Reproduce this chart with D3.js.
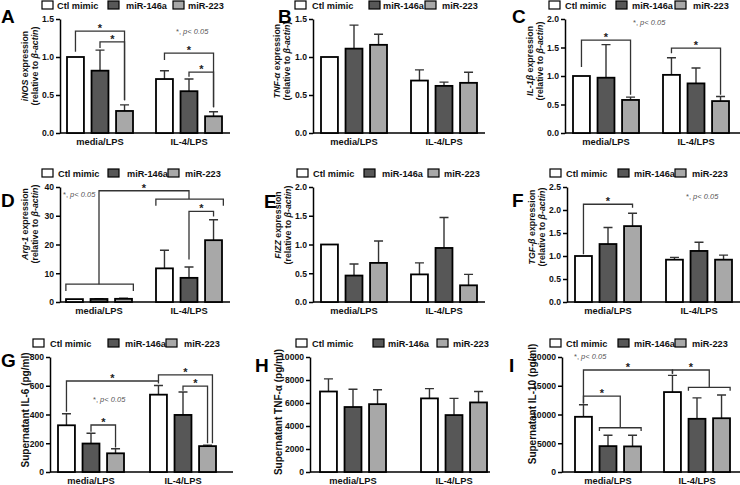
<!DOCTYPE html>
<html>
<head>
<meta charset="utf-8">
<script src="https://cdn.jsdelivr.net/npm/d3@7"></script>
<style>
  body { margin: 0; background: #fff; }
  svg { display: block; font-family: "Liberation Sans", Arial, sans-serif; }
</style>
</head>
<body>
<div id="chart"></div>
<script>
const groups = ["media/LPS", "IL-4/LPS"];
const series = ["Ctl mimic", "miR-146a", "miR-223"];

// means, rows = groups, columns = series ; *Err = upper error bar
const iNOS = [[1.00, 0.82, 0.29], [0.71, 0.55, 0.22]];
const iNOSErr = [[0, 0.27, 0.08], [0.11, 0.16, 0.06]];
const tnfA = [[1.00, 1.11, 1.16], [0.69, 0.62, 0.66]];
const tnfAErr = [[0, 0.31, 0.14], [0.14, 0.05, 0.14]];
const il1b = [[1.00, 0.97, 0.58], [1.02, 0.87, 0.56]];
const il1bErr = [[0, 0.58, 0.05], [0.30, 0.27, 0.08]];
const arg1 = [[1.0, 1.05, 1.1], [11.7, 8.4, 21.5]];
const arg1Err = [[0, 0.1, 0.25], [6.3, 3.8, 7.1]];
const fizz = [[1.00, 0.46, 0.68], [0.48, 0.94, 0.29]];
const fizzErr = [[0, 0.20, 0.38], [0.20, 0.53, 0.19]];
const tgfb = [[1.00, 1.26, 1.65], [0.92, 1.11, 0.92]];
const tgfbErr = [[0, 0.36, 0.28], [0.05, 0.19, 0.10]];
const il6 = [[325, 198, 130], [538, 397, 180]];
const il6Err = [[80, 72, 32], [64, 160, 7]];
const tnfSup = [[7000, 5650, 5900], [6400, 4950, 6050]];
const tnfSupErr = [[1100, 1550, 1250], [850, 1450, 950]];
const il10 = [[9600, 4500, 4450], [13900, 9250, 9350]];
const il10Err = [[2100, 1900, 1950], [2900, 3650, 4050]];

// y ticks
const ticks15 = [0, 0.5, 1.0, 1.5];
const ticks20 = [0, 0.5, 1.0, 1.5, 2.0];
const ticks25 = [0, 0.5, 1.0, 1.5, 2.0, 2.5];
const ticksArg = [0, 10, 20, 30, 40];
const ticksIL6 = [0, 200, 400, 600, 800];
const ticksTNF = [0, 2000, 4000, 6000, 8000, 10000];
const ticksIL10 = [0, 5000, 10000, 15000, 20000];

// significance brackets : a / b = [group, bar, end of leg], y = level (data units)
const sigA = [
  {a: [0, 0, 1.07], b: [0, 2, 0.43], y: 1.34, star: true},
  {a: [0, 1, 1.12], b: [0, 2, 0.43], y: 1.20, star: true},
  {a: [1, 0, 0.96], b: [1, 2, 0.34], y: 1.05, star: true},
  {a: [1, 1, 0.74], b: [1, 2, 0.34], y: 0.80, star: true}
];
const sigC = [
  {a: [0, 0, 1.16], b: [0, 2, 0.67], y: 1.63, star: true},
  {a: [1, 0, 1.40], b: [1, 2, 0.67], y: 1.49, star: true}
];
const sigD = [
  {a: [0, -0.35, 3.8], b: [0, 2.4, 3.8], y: 6.2, star: false},
  {a: [1, -0.35, 33.5], b: [1, 2.4, 33.5], y: 35.8, star: false},
  {a: [0, 1, 6.2], b: [1, 1, 35.8], y: 38.7, star: true},
  {a: [1, 1, 14.8], b: [1, 2, 29.7], y: 31.5, star: true}
];
const sigF = [
  {a: [0, 0, 1.04], b: [0, 2, 2.05], y: 2.125, star: true}
];
const sigG = [
  {a: [0, 0, 420], b: [1, 0, 615], y: 633, star: true},
  {a: [1, 0, 633], b: [1, 2.2, 200], y: 675, star: true},
  {a: [1, 1, 565], b: [1, 2, 200], y: 598, star: true},
  {a: [0, 1, 280], b: [0, 2, 170], y: 327, star: true}
];
const sigI = [
  {a: [0, 0.65, 7130], b: [0, 2.35, 7130], y: 7700, star: false},
  {a: [0, 0, 11900], b: [0, 1.5, 7700], y: 13200, star: true},
  {a: [1, 0.65, 14150], b: [1, 2.35, 14150], y: 14730, star: false},
  {a: [1, 0, 17100], b: [1, 1.5, 14730], y: 17740, star: true},
  {a: [0, 0, 11900], b: [1, 0, 17100], y: 17740, star: true}
];

const fills = ["#ffffff", "#575757", "#a8a8a8"];
const groupW = 66;
const font = "'Liberation Sans', Arial, sans-serif";

const svg = d3.select("#chart").append("svg")
  .attr("width", 740)
  .attr("height", 485);

const rel = [["(relative to ", 0], ["β-actin", 1], [")", 0]];

// layout of each panel (pixels)
const panels = [
  {letter: "A", lxy: [1, 23], vals: iNOS, errs: iNOSErr, ticks: ticks15, fmt: ".1f", sig: sigA,
   title: [[["iNOS", 1], [" expression", 0]], rel], tx: [25, 35], ty: 66, fs: 8.8,
   axis: [60, 230], bars: [67, 222], rows: [19, 133],
   leg: [[42, 57], [108, 126], [173, 188]], legY: 9, ptxt: [176, 34]},
  {letter: "B", lxy: [278, 23], vals: tnfA, errs: tnfAErr, ticks: ticks15, fmt: ".1f", sig: [],
   title: [[["TNF-α", 1], [" expression", 0]], rel], tx: [277, 287], ty: 61, fs: 8.8,
   axis: [313, 485], bars: [321, 477], rows: [19, 133],
   leg: [[295, 312], [369, 383], [425, 442]], legY: 9},
  {letter: "C", lxy: [512, 23], vals: il1b, errs: il1bErr, ticks: ticks20, fmt: ".1f", sig: sigC,
   title: [[["IL-1β", 1], [" expression", 0]], rel], tx: [530, 540], ty: 61, fs: 8.8,
   axis: [565, 740], bars: [573, 729], rows: [19, 133],
   leg: [[549, 565], [616, 632], [675, 693]], legY: 9, ptxt: [633, 25]},
  {letter: "D", lxy: [1, 207], vals: arg1, errs: arg1Err, ticks: ticksArg, fmt: "d", sig: sigD,
   title: [[["Arg-1", 1], [" expression", 0]], rel], tx: [25, 35], ty: 224, fs: 8.8,
   axis: [60, 230], bars: [66, 222], rows: [187, 302],
   leg: [[42, 58], [108, 127], [168, 185]], legY: 177, ptxt: [63, 197]},
  {letter: "E", lxy: [264, 208], vals: fizz, errs: fizzErr, ticks: ticks20, fmt: ".1f", sig: [],
   title: [[["FIZZ", 1], [" expression", 0]], rel], tx: [278, 288], ty: 225, fs: 8.8,
   axis: [313, 485], bars: [321, 477], rows: [187, 302],
   leg: [[297, 313], [364, 382], [428, 444]], legY: 177},
  {letter: "F", lxy: [512, 207], vals: tgfb, errs: tgfbErr, ticks: ticks25, fmt: ".1f", sig: sigF,
   title: [[["TGF-β", 1], [" expression", 0]], rel], tx: [532, 542], ty: 227, fs: 8.8,
   axis: [567, 740], bars: [575, 732], rows: [187, 302],
   leg: [[550, 566], [618, 634], [675, 692]], legY: 177, ptxt: [686, 199]},
  {letter: "G", lxy: [1, 367], vals: il6, errs: il6Err, ticks: ticksIL6, fmt: "d", sig: sigG,
   title: [[["Supernatant IL-6 (pg/ml)", 0]]], tx: [25], ty: 410, fs: 10,
   axis: [50, 233], bars: [58, 216], rows: [357, 472],
   leg: [[33, 50], [108, 125], [166, 184]], legY: 347, ptxt: [93, 402]},
  {letter: "H", lxy: [255, 372], vals: tnfSup, errs: tnfSupErr, ticks: ticksTNF, fmt: "d", sig: [],
   title: [[["Supernatant TNF-α (pg/ml)", 0]]], tx: [278], ty: 412, fs: 10,
   axis: [310, 490], bars: [320, 487], rows: [357, 472],
   leg: [[296, 312], [373, 388], [437, 453]], legY: 347},
  {letter: "I", lxy: [509, 372], vals: il10, errs: il10Err, ticks: ticksIL10, fmt: "d", sig: sigI,
   title: [[["Supernatant IL-10 (pg/ml)", 0]]], tx: [532], ty: 404, fs: 10,
   axis: [562, 740], bars: [575, 730], rows: [357, 472],
   leg: [[550, 566], [618, 634], [675, 692]], legY: 347, ptxt: [574, 359]}
];

panels.forEach(p => {
  const g = svg.append("g");
  const W = p.bars[1] - p.bars[0];

  const x = d3.scaleBand()
    .domain([0, 1])
    .range(p.bars)
    .paddingInner((W - 2 * groupW) / (W - groupW));
  const xi = d3.scaleBand()
    .domain([0, 1, 2])
    .range([0, x.bandwidth()])
    .paddingInner(0.31);
  const y = d3.scaleLinear()
    .domain([0, d3.max(p.ticks)])
    .range([p.rows[1], p.rows[0]]);

  // centre of bar s (may be fractional) in group gi
  const xc = (gi, s) => x(gi) + xi.bandwidth() / 2 + s * xi.step();

  // y axis
  const ya = g.append("g")
    .attr("transform", "translate(" + p.axis[0] + ",0)")
    .call(d3.axisLeft(y).tickValues(p.ticks).tickSize(4).tickSizeOuter(0).tickPadding(2)
      .tickFormat(d3.format(p.fmt)));
  ya.select(".domain").attr("stroke-width", 1.5);
  ya.selectAll(".tick line").attr("stroke-width", 1.5);
  ya.selectAll("text").attr("font-size", 8.6).attr("font-weight", "bold")
    .attr("font-family", font).attr("fill", "#111");

  // x axis
  g.append("line")
    .attr("x1", p.axis[0]).attr("x2", p.axis[1])
    .attr("y1", p.rows[1]).attr("y2", p.rows[1])
    .attr("stroke", "#000").attr("stroke-width", 1.5);
  const xa = g.append("g")
    .attr("transform", "translate(0," + p.rows[1] + ")")
    .call(d3.axisBottom(x).tickSize(0).tickPadding(5).tickFormat(i => groups[i]));
  xa.select(".domain").remove();
  xa.selectAll("text").attr("font-size", 9.3).attr("font-weight", "bold")
    .attr("font-family", font).attr("fill", "#111");

  // bars
  const cells = [];
  p.vals.forEach((row, gi) => row.forEach((v, s) => cells.push({gi, s, v, e: p.errs[gi][s]})));

  g.selectAll(".err")
    .data(cells.filter(d => d.e > 0))
    .enter().append("path")
    .attr("d", d => {
      const cx = xc(d.gi, d.s), t = y(d.v + d.e);
      return "M" + cx + "," + y(d.v) + "V" + t + "M" + (cx - 4.5) + "," + t + "H" + (cx + 4.5);
    })
    .attr("stroke", "#333").attr("stroke-width", 1.4).attr("fill", "none");

  g.selectAll(".bar")
    .data(cells)
    .enter().append("rect")
    .attr("x", d => x(d.gi) + xi(d.s))
    .attr("y", d => y(d.v))
    .attr("width", xi.bandwidth())
    .attr("height", d => y(0) - y(d.v))
    .attr("fill", d => fills[d.s])
    .attr("stroke", "#000")
    .attr("stroke-width", 1.8);

  // brackets
  p.sig.forEach(b => {
    const xa1 = xc(b.a[0], b.a[1]), xb1 = xc(b.b[0], b.b[1]);
    g.append("path")
      .attr("d", "M" + xa1 + "," + y(b.a[2]) + "V" + y(b.y) + "H" + xb1 + "V" + y(b.b[2]))
      .attr("fill", "none").attr("stroke", "#333").attr("stroke-width", 1.3);
    if (b.star) {
      g.append("text")
        .attr("x", (xa1 + xb1) / 2).attr("y", y(b.y) + 1)
        .attr("text-anchor", "middle")
        .attr("font-size", 11).attr("font-weight", "bold").attr("fill", "#222")
        .text("*");
    }
  });

  if (p.ptxt) {
    const t = g.append("text")
      .attr("x", p.ptxt[0]).attr("y", p.ptxt[1])
      .attr("font-size", 7.5).attr("fill", "#555");
    t.append("tspan").text("*, ");
    t.append("tspan").attr("font-style", "italic").text("p< 0.05");
  }

  // y title
  p.title.forEach((line, li) => {
    const t = g.append("text")
      .attr("transform", "translate(" + p.tx[li] + "," + p.ty + ") rotate(-90)")
      .attr("text-anchor", "middle")
      .attr("dominant-baseline", "central")
      .attr("font-size", p.fs).attr("font-weight", "bold").attr("fill", "#111");
    line.forEach(part => t.append("tspan")
      .attr("font-style", part[1] ? "italic" : "normal")
      .text(part[0]));
  });

  // legend
  series.forEach((name, s) => {
    g.append("rect")
      .attr("x", p.leg[s][0]).attr("y", p.legY - 8)
      .attr("width", 11).attr("height", 8)
      .attr("fill", fills[s]).attr("stroke", "#000").attr("stroke-width", 1.2);
    g.append("text")
      .attr("x", p.leg[s][1]).attr("y", p.legY)
      .attr("font-size", 9.2).attr("font-weight", "bold").attr("fill", "#111")
      .text(name);
  });

  // panel letter
  g.append("text")
    .attr("x", p.lxy[0]).attr("y", p.lxy[1])
    .attr("font-size", 19).attr("font-weight", "bold").attr("fill", "#000")
    .text(p.letter);
});
</script>
</body>
</html>
